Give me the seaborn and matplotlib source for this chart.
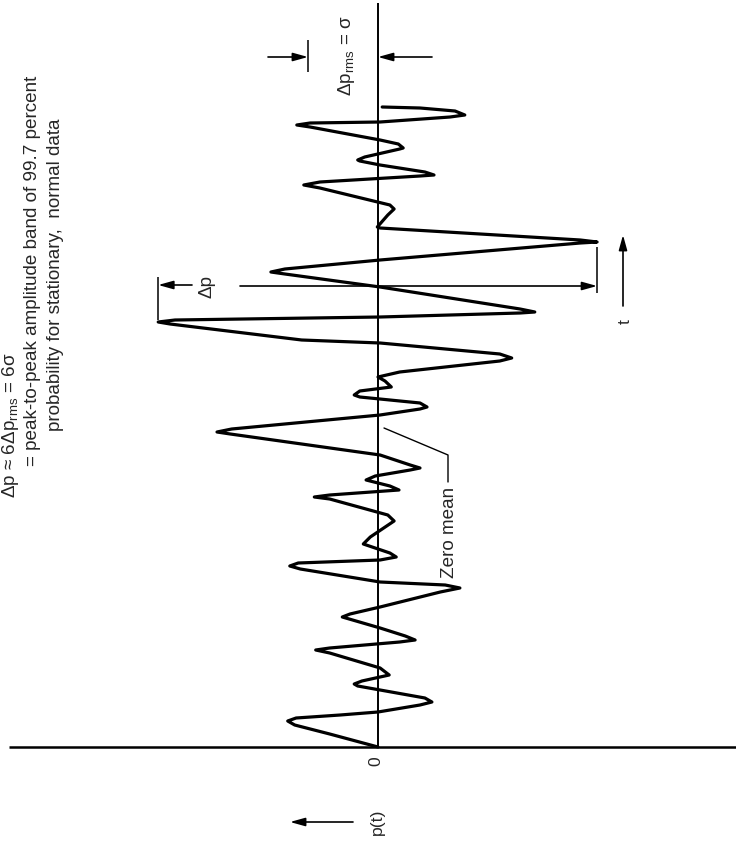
import matplotlib
matplotlib.use('Agg')
import numpy as np
import pandas as pd
import matplotlib.pyplot as plt
import seaborn as sns

# ---------------------------------------------------------------
# Random pressure trace p(t).
# p in units of sigma (= dp_rms), t in arbitrary time units (0 at origin)
# ---------------------------------------------------------------
p_vals = [0.00, -0.69, -1.19, -1.29, -1.17, -0.54, 0.00, 0.60, 0.77, 0.67,
          0.03, -0.29, -0.34, -0.23, 0.16, 0.03, -0.69, -0.89, -0.69, 0.31,
          0.53, 0.39, 0.03, -0.51, -0.40, 0.03, 0.89, 1.17, 0.96, 0.03,
          -1.11, -1.26, -1.14, 0.03, 0.26, 0.17, -0.21, -0.11, 0.23, 0.14,
          -0.69, -0.91, -0.69, 0.30, 0.17, -0.17, -0.04, 0.46, 0.60, 0.46,
          0.03, -2.11, -2.30, -2.09, 0.03, 0.60, 0.70, 0.60, -0.26, -0.34,
          -0.26, 0.19, 0.10, 0.00, 0.31, 1.74, 1.91, 1.74, 0.03, -1.09,
          -2.97, -3.14, -2.90, 0.03, 2.03, 2.24, 2.03, 0.03, -1.33, -1.53,
          -1.33, 0.03, 2.89, 3.13, 2.89, 0.03, -0.01, 0.14, 0.23, 0.17,
          -0.83, -1.06, -0.83, 0.60, 0.80, 0.67, 0.03, -0.26, -0.29, -0.19,
          0.31, 0.36, 0.29, 0.03, -0.97, -1.16, -0.97, 0.03, 1.03, 1.24,
          1.10, 0.60, 0.06]
t_vals = [0.0, 1.3, 2.2, 2.6, 2.9, 3.2, 3.5, 4.2, 4.5, 4.9,
          5.7, 6.1, 6.3, 6.6, 7.2, 7.9, 9.4, 9.7, 9.9, 10.5,
          10.7, 11.1, 11.9, 13.0, 13.3, 14.0, 15.5, 15.9, 16.2, 16.5,
          17.8, 18.1, 18.4, 18.7, 19.0, 19.4, 20.3, 21.0, 22.6, 23.2,
          24.8, 25.0, 25.2, 25.7, 26.1, 26.7, 27.1, 27.7, 27.9, 28.2,
          29.2, 31.3, 31.5, 31.8, 33.2, 33.8, 34.0, 34.4, 35.0, 35.2,
          35.6, 36.0, 36.6, 37.0, 37.5, 38.6, 38.9, 39.3, 40.4, 40.7,
          42.3, 42.5, 42.7, 43.0, 43.4, 43.5, 43.8, 46.0, 47.3, 47.5,
          47.8, 48.7, 50.4, 50.5, 50.7, 51.9, 52.0, 53.2, 53.8, 54.2,
          55.9, 56.2, 56.5, 57.1, 57.2, 57.5, 58.2, 58.6, 58.7, 59.0,
          59.8, 59.9, 60.3, 60.7, 62.0, 62.2, 62.4, 62.5, 63.0, 63.2,
          63.6, 63.9, 64.0]

SIGMA = 1.0  # dp_rms

text_lines = [
    "\u0394p \u2248 6\u0394p$_{\\mathrm{rms}}$ = 6\u03c3",
    "= peak-to-peak amplitude band of 99.7 percent",
    "probability for stationary,  normal data",
]

sns.set_theme(style='white')
plt.rcParams['font.family'] = ['Liberation Sans', 'DejaVu Sans']
plt.rcParams['mathtext.fontset'] = 'custom'
plt.rcParams['mathtext.rm'] = 'Liberation Sans'
plt.rcParams['mathtext.it'] = 'Liberation Sans:italic'

FS = 13.6

fig = plt.figure(figsize=(7.36, 8.42), dpi=100)
ax = fig.add_axes([0, 0, 1, 1])

# layout helper: page pixel position -> data coords
X0, Y0, SX, SY = 378, 747, 70, 10


def px(x, y):
    return (x - X0) / SX, (Y0 - y) / SY


def tx(y):
    return (Y0 - y) / SY


def ptx(x):
    return (x - X0) / SX


df = pd.DataFrame({'p': p_vals, 't': t_vals})
sns.lineplot(data=df, x='p', y='t', sort=False, estimator=None, orient='y',
             color='black', lw=2.3, ax=ax)

ax.set_xlim(ptx(0), ptx(736))
ax.set_ylim(tx(842), tx(0))
ax.axis('off')

# zero mean line and time origin
ax.vlines(0, 0, tx(3), color='black', lw=1.4)
ax.hlines(0, ptx(9), ptx(736), color='black', lw=1.8)
ax.text(*px(376, 761), '0', rotation=90, ha='center', va='center', fontsize=FS - 1)

arrow = dict(arrowstyle='-|>,head_length=0.9,head_width=0.25', color='black',
             lw=1.2, shrinkA=0, shrinkB=0, mutation_scale=10)

# p(t) axis label
ax.text(*px(377, 822), 'p(t)', rotation=90, ha='center', va='center', fontsize=FS - 1)
ax.annotate('', xy=px(290, 822), xytext=px(353, 822), arrowprops=arrow)

# t arrow
ax.annotate('', xy=px(623, 235), xytext=px(623, 306), arrowprops=arrow)
ax.text(*px(625, 322), 't', rotation=90, ha='center', va='center', fontsize=FS - 1)

# peak-to-peak band
pmin, pmax = min(p_vals), max(p_vals)
ax.vlines(pmin, tx(320), tx(277), color='black', lw=1.1)
ax.vlines(pmax, tx(293), tx(247), color='black', lw=1.1)
ax.annotate('', xy=(pmin, tx(285)), xytext=(ptx(192), tx(285)), arrowprops=arrow)
ax.annotate('', xy=(pmax, tx(286)), xytext=(ptx(240), tx(286)), arrowprops=arrow)
ax.text(*px(207, 287), '\u0394p', rotation=90, ha='center', va='center', fontsize=FS)

# rms band
ax.vlines(-SIGMA, tx(72), tx(40), color='black', lw=1.1)
ax.annotate('', xy=(-SIGMA, tx(57)), xytext=(ptx(268), tx(57)), arrowprops=arrow)
ax.annotate('', xy=(0, tx(57)), xytext=(ptx(432), tx(57)), arrowprops=arrow)
ax.text(*px(346, 56), '\u0394p$_{\\mathrm{rms}}$ = \u03c3', rotation=90,
        ha='center', va='center', fontsize=FS)

# zero mean callout
ax.text(*px(449, 532), 'Zero mean', rotation=90, ha='center', va='center', fontsize=FS)
lx, ly = zip(px(448, 482), px(448, 455), px(384, 428))
ax.plot(lx, ly, color='black', lw=1.0)

# explanatory note, top left
for (cx, cy), line in zip([(10, 425), (32, 271), (55, 275)], text_lines):
    ax.text(*px(cx, cy), line, rotation=90, ha='center', va='center', fontsize=FS)

fig.savefig('out.png', dpi=100, facecolor='white')
